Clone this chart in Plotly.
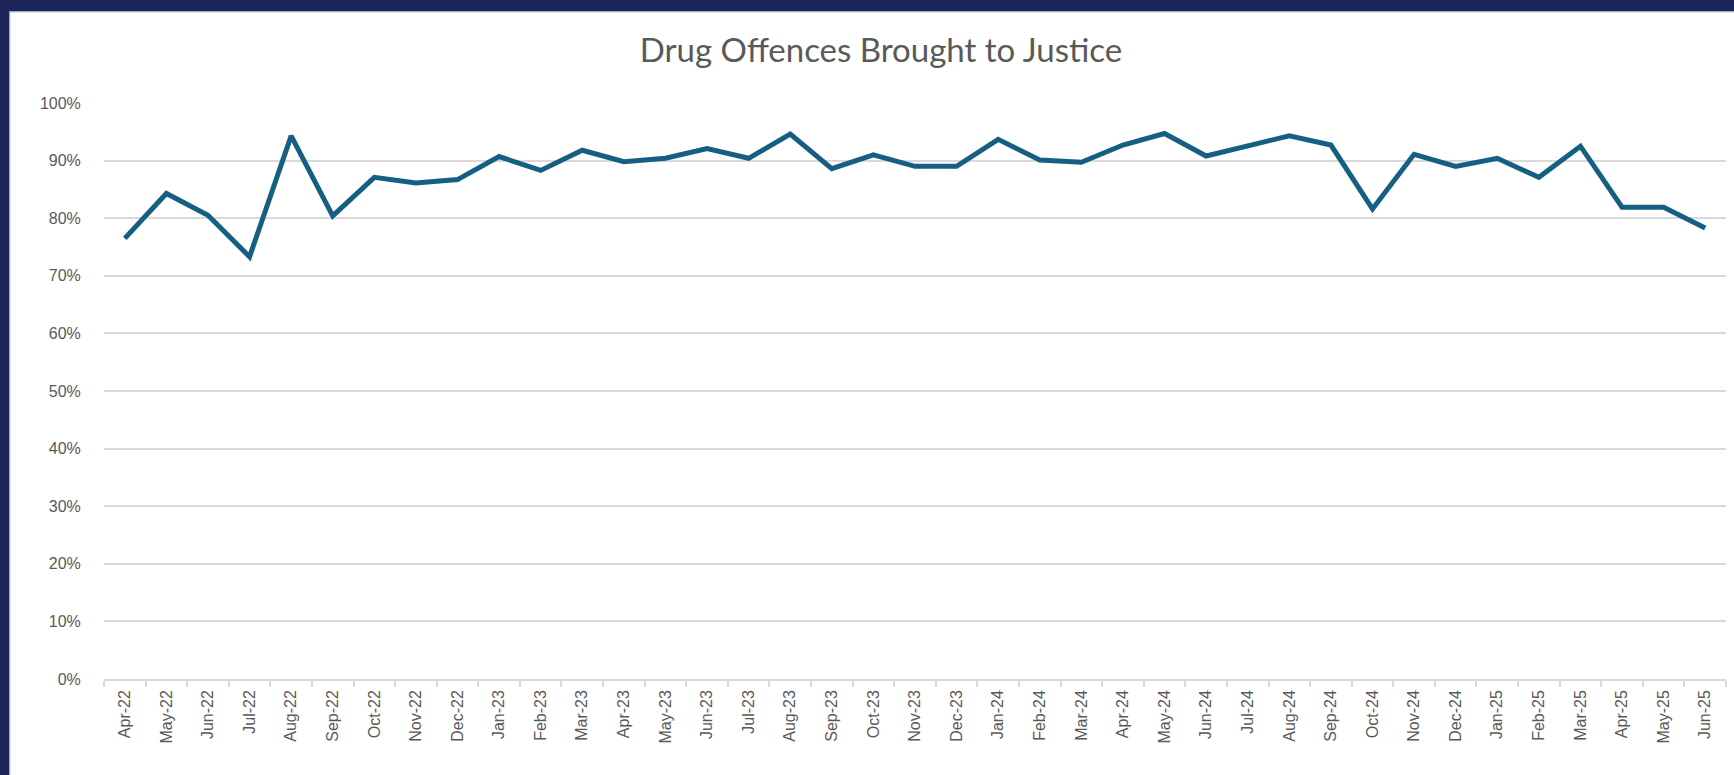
import plotly.graph_objects as go

months = ["Apr-22", "May-22", "Jun-22", "Jul-22", "Aug-22", "Sep-22", "Oct-22", "Nov-22", "Dec-22",
          "Jan-23", "Feb-23", "Mar-23", "Apr-23", "May-23", "Jun-23", "Jul-23", "Aug-23", "Sep-23",
          "Oct-23", "Nov-23", "Dec-23", "Jan-24", "Feb-24", "Mar-24", "Apr-24", "May-24", "Jun-24",
          "Jul-24", "Aug-24", "Sep-24", "Oct-24", "Nov-24", "Dec-24", "Jan-25", "Feb-25", "Mar-25",
          "Apr-25", "May-25", "Jun-25"]
rates = [0.765, 0.843, 0.805, 0.733, 0.943, 0.804, 0.871, 0.861, 0.867,
         0.907, 0.883, 0.918, 0.898, 0.904, 0.921, 0.904, 0.946, 0.886,
         0.910, 0.890, 0.890, 0.937, 0.901, 0.897, 0.927, 0.947, 0.908,
         0.926, 0.943, 0.927, 0.816, 0.911, 0.890, 0.904, 0.871, 0.925,
         0.819, 0.819, 0.783]
y_ticks = [0, 0.1, 0.2, 0.3, 0.4, 0.5, 0.6, 0.7, 0.8, 0.9, 1.0]

W, H = 1734, 775
L, R, T, B = 104, 8, 103, 96
pw, ph = W - L - R, H - T - B

fig = go.Figure()
fig.add_trace(go.Scatter(
    x=months, y=rates, mode="lines",
    line=dict(color="#156082", width=5, shape="linear"),
    hoverinfo="x+y",
))

# white chart area on navy frame
fig.add_shape(type="rect", xref="paper", yref="paper", layer="below",
              x0=(10 - L) / pw, x1=(W + 10 - L) / pw,
              y0=-(B + 10) / ph, y1=(H - T - 5) / ph,
              fillcolor="white", line=dict(color="#d9d9d9", width=1.5))

fig.update_layout(
    width=W, height=H,
    paper_bgcolor="#1b2557",
    plot_bgcolor="rgba(0,0,0,0)",
    margin=dict(l=L, r=R, t=T, b=B),
    showlegend=False,
    title=dict(text="Drug Offences Brought to Justice", xref="container", x=881 / W,
               xanchor="center", y=1 - 50 / H, yanchor="middle",
               font=dict(family="Lato", size=33, color="#595959")),
    font=dict(family="Liberation Sans, Arial", color="#595959"),
)
fig.update_xaxes(
    type="category", tickangle=-90,
    tickfont=dict(size=16, color="#595959"),
    showgrid=False, showline=True, linecolor="#d9d9d9", linewidth=1.5,
    ticks="outside", ticklen=6, tickcolor="#d9d9d9", tickwidth=1.5,
    tickson="boundaries", ticklabelstandoff=3,
    range=[-0.5, len(months) - 0.5], zeroline=False,
)
fig.update_yaxes(
    range=[0, 1], tickvals=y_ticks, tickformat=".0%",
    tickfont=dict(size=16, color="#595959"),
    showgrid=True, gridcolor="#d9d9d9", gridwidth=1.5,
    zeroline=False, showline=False,
    ticks="outside", ticklen=19, tickcolor="rgba(0,0,0,0)",
)

fig.write_html("out.html", config={"displayModeBar": False},
               post_script="document.body.style.margin='0';document.body.style.overflow='hidden';")
